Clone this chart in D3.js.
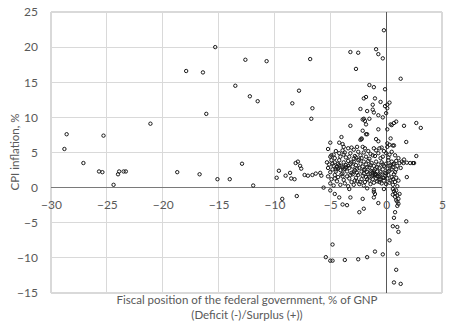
<!DOCTYPE html>
<html>
<head>
<meta charset="utf-8">
<script src="https://cdn.jsdelivr.net/npm/d3@7/dist/d3.min.js"></script>
<style>
  html, body { margin: 0; padding: 0; background: #fff; }
  svg { display: block; }
  text { font-family: Lato, "Open Sans", sans-serif; fill: #595959; }
</style>
</head>
<body>
<svg id="chart" width="453" height="329"></svg>
<script>
// Fiscal position (% of GNP) vs CPI inflation (%), [x, y]
const farLeftPoints = [
  [-28.8,5.5],[-28.6,7.6],[-27.1,3.5],[-25.7,2.3],[-25.4,2.2],[-25.3,7.4],[-24.4,0.4],
  [-24.0,1.9],[-23.9,2.3],[-23.5,2.3],[-23.3,2.3],[-21.1,9.1],[-18.7,2.2],[-17.9,16.6],
  [-16.7,1.9],[-16.4,16.4],[-16.1,10.5],[-15.3,20.0],[-15.1,1.2],[-14.0,1.2],[-13.5,14.5],
  [-12.9,3.4],[-12.6,18.2],[-12.2,13.0],[-11.9,0.3],[-11.5,12.3],[-10.7,18.0]
];
const midPoints = [
  [-9.8,1.4],[-9.6,2.4],[-9.3,-1.6],[-9.0,1.7],[-8.6,2.1],[-8.5,1.3],[-8.4,12.0],[-8.2,1.2],
  [-8.1,3.5],[-7.9,3.7],[-7.7,3.1],[-7.6,2.7],[-8.0,-1.2],[-7.8,13.8],[-7.3,1.8],[-7.0,1.7],
  [-6.8,18.3],[-6.7,9.8],[-6.6,11.3],[-6.6,1.8],[-6.3,2.0],[-5.9,2.1],[-5.8,1.7],[-5.6,0.0]
];
const highInflationPoints = [
  [-0.2,22.4],[-3.2,19.3],[-2.5,19.2],[-0.9,19.7],[-0.7,19.0],[-0.3,18.4],[-2.7,16.9],
  [1.3,15.5],[-1.5,14.6],[-1.1,14.3],[-0.1,14.0],[-2.0,12.7],[-1.8,12.9],[-1.0,12.7],
  [-0.5,12.2],[0.3,12.1],[0.1,11.8],[-0.1,11.6],[-2.3,11.2],[-1.7,10.9],[-1.2,11.8],
  [-1.2,11.1],[-1.1,10.7],[-2.0,9.8],[-2.1,9.7],[-1.5,9.8],[-1.9,9.5],[-1.8,9.0],
  [-0.7,10.3],[-0.3,10.0],[0.0,10.6],[0.1,11.3],[-3.2,8.8],[-2.1,8.1],[-1.8,7.6],
  [-0.7,8.3],[0.1,8.3],[0.4,9.0],[0.7,9.2],[0.9,9.4],[0.5,8.9],[1.6,8.8],[2.7,9.2],[3.1,8.5],
  [-4.0,7.2],[-5.0,6.4],[-4.2,6.4],[-3.9,6.2],[-3.8,5.8],[-2.2,6.9],[-2.2,7.0],[-2.3,6.8],
  [-1.7,7.6],[-0.9,6.9],[-0.7,6.6],[0.4,7.0],[1.8,6.5],[0.1,6.3],[0.3,6.1],[0.6,6.0],
  [0.7,6.0],[0.1,5.8]
];
const clusterPoints = [
  [-5.2,5.5],[-5.0,4.4],[-4.7,4.7],[-4.5,5.2],[-4.2,4.9],[-3.9,5.3],[-3.8,4.7],[-3.6,4.3],
  [-3.4,5.6],[-3.2,4.9],[-3.1,5.7],[-2.9,5.4],[-2.8,4.5],[-2.6,5.8],[-2.5,5.1],[-2.3,4.6],
  [-2.1,5.8],[-2.0,5.0],[-1.9,5.6],[-1.8,4.4],[-1.6,5.2],[-1.4,4.8],[-1.1,5.6],[-1.0,4.5],
  [-0.9,5.3],[-0.7,4.9],[-0.6,5.6],[-0.4,5.7],[-0.3,4.4],[0.0,4.9],[0.2,4.3],[0.5,5.1],
  [0.8,4.6],[1.1,4.2],[1.6,4.0],[2.7,4.5],
  [-5.3,3.6],[-5.2,2.8],[-5.1,3.3],[-5.0,2.2],[-4.9,3.9],[-4.8,2.6],[-4.7,3.1],[-4.6,3.6],
  [-4.5,2.3],[-4.4,2.9],[-4.3,3.4],[-4.2,3.9],[-4.1,2.5],[-4.0,3.1],[-3.9,2.0],[-3.8,3.6],
  [-3.7,2.7],[-3.6,3.2],[-3.5,2.3],[-3.4,3.8],[-3.3,2.8],[-3.2,3.4],[-3.1,2.1],[-3.0,3.0],
  [-2.9,3.7],[-2.8,2.5],[-2.7,3.2],[-2.6,2.1],[-2.5,3.9],[-2.4,2.8],[-2.3,3.4],[-2.2,2.3],
  [-2.1,3.0],[-2.0,3.7],[-1.9,2.6],[-1.8,3.3],[-1.7,2.2],[-1.6,3.8],[-1.5,2.9],[-1.4,2.4],
  [-1.3,3.5],[-1.2,2.1],[-1.1,3.1],[-1.0,2.6],[-0.9,3.7],[-0.8,2.3],[-0.7,3.3],[-0.6,2.8],
  [-0.5,2.2],[-0.4,3.6],[-0.3,2.6],[-0.2,3.1],[-0.1,2.1],[0.0,3.4],[0.1,2.7],[0.2,3.9],
  [0.3,2.4],[0.4,3.2],[0.5,3.7],[0.6,2.9],[0.7,3.4],[0.8,2.2],[0.9,3.8],[1.0,3.1],
  [1.2,3.5],[1.4,3.7],[1.55,3.5],[1.85,3.55],[2.15,3.5],[2.4,3.5],[2.5,3.5],[1.85,1.5],
  [-4.4,3.0],[-4.3,2.7],[-3.9,2.9],[-3.8,2.6],[-3.6,2.9],[-2.9,4.1],[-2.7,4.3],[-2.4,4.0],
  [-1.2,1.8],[-1.0,2.0],[-0.9,1.9],[-0.8,1.6],[-0.6,1.7],[-0.5,1.2],[-1.3,2.3],[0.3,3.1],
  [0.6,3.3],[0.5,2.6],
  [-4.9,4.6],[-4.6,4.2],[-4.1,4.4],[-3.7,5.0],[-3.3,4.4],[-2.2,4.2],[-1.5,4.1],[-1.2,4.6],
  [-0.5,4.2],[-0.2,5.2],[0.3,4.7],[-4.8,3.4],[-4.5,2.6],[-4.2,3.2],[-3.4,3.1],[-3.1,3.6],
  [-2.6,2.7],[-2.0,2.5],[-1.7,2.9],[-1.4,3.2],[-0.8,2.9],[-0.3,3.3],[0.2,2.3],[0.9,2.6],
  [1.3,2.8],[-3.9,1.6],[-3.2,1.8],[-2.8,1.0],[-2.3,0.8],[-1.7,1.2],[-1.5,1.6],[-0.6,0.8],
  [-0.2,1.4],[0.3,0.7],[-4.6,1.3],[-2.9,2.3],[-2.0,2.0],[-1.1,2.4],[0.0,2.0],[0.6,1.2],
  [-5.2,1.6],[-5.0,0.6],[-4.9,1.2],[-4.7,0.3],[-4.6,1.8],[-4.4,0.9],[-4.3,1.5],[-4.1,0.4],
  [-4.0,1.9],[-3.8,1.1],[-3.7,0.6],[-3.5,1.6],[-3.4,0.2],[-3.3,1.3],[-3.1,0.8],[-3.0,1.9],
  [-2.9,0.4],[-2.7,1.4],[-2.6,0.9],[-2.5,1.8],[-2.4,0.5],[-2.2,1.2],[-2.1,1.7],[-2.0,0.3],
  [-1.9,0.8],[-1.8,1.5],[-1.6,1.9],[-1.5,1.0],[-1.4,0.5],[-1.3,1.6],[-1.2,1.2],[-1.1,0.7],
  [-1.0,1.8],[-0.9,1.3],[-0.8,0.9],[-0.7,1.6],[-0.6,1.1],[-0.5,1.9],[-0.4,0.6],[-0.3,1.4],
  [-0.2,1.0],[-0.1,1.7],[0.0,0.5],[0.1,1.3],[0.2,1.8],[0.4,1.0],[0.5,1.5],[0.6,0.4],
  [0.7,1.9],[0.8,0.8],[0.9,1.4],[1.0,0.2],[1.1,1.0]
];
const belowZeroPoints = [
  [-5.0,-0.4],[-4.6,-0.9],[-3.3,-0.2],[-1.7,-0.1],[-1.1,-0.3],[-1.1,-0.6],[-1.0,-0.9],
  [-0.2,-0.2],[0.6,-0.2],[0.7,-0.5],[0.8,-0.8],[0.9,-0.4],[1.0,-1.1],[0.8,-1.3],[1.1,-1.6],
  [0.9,-1.8],[1.2,-0.9],[1.0,-2.0],[1.1,-2.3],[1.0,-2.6],[0.6,-1.0],
  [-4.2,-1.4],[-3.2,-1.4],[-2.1,-1.6],[-1.1,-1.4],[-3.9,-2.4],[-3.5,-2.5],[-0.7,-2.2],
  [-2.0,-3.0],[-2.4,-3.5],[0.8,-3.5],[0.7,-4.3],[1.8,-4.8],[0.6,-5.5],[1.0,-5.6],[1.1,-6.3],
  [0.3,-7.5],[-4.8,-8.1],[-5.4,-9.9],[-5.0,-10.4],[-4.8,-10.4],[-3.7,-10.3],[-2.5,-10.2],
  [-1.7,-9.9],[-1.0,-9.1],[-0.3,-9.5],[1.0,-9.4],[0.9,-11.7],[0.7,-13.5],[1.3,-13.7]
];
const xTicks = [-30,-25,-20,-15,-10,-5,0,5];
const yTicks = [-15,-10,-5,0,5,10,15,20,25];
const xTitle = ["Fiscal position of the federal government, % of GNP", "(Deficit (-)/Surplus (+))"];
const yTitle = "CPI inflation, %";

const allPoints = [...farLeftPoints, ...midPoints, ...highInflationPoints, ...clusterPoints, ...belowZeroPoints];

const svg = d3.select("#chart");
const x = d3.scaleLinear().domain([-30, 5]).range([51, 442]);
const y = d3.scaleLinear().domain([-15, 25]).range([293, 12]);

// gridlines
svg.append("g").selectAll("line").data(xTicks).join("line")
  .attr("x1", d => x(d)).attr("x2", d => x(d))
  .attr("y1", y(25)).attr("y2", y(-15))
  .attr("stroke", "#d9d9d9").attr("stroke-width", 1.2)
  .attr("shape-rendering", "crispEdges");
svg.append("g").selectAll("line").data(yTicks).join("line")
  .attr("x1", x(-30)).attr("x2", x(5))
  .attr("y1", d => y(d)).attr("y2", d => y(d))
  .attr("stroke", "#d9d9d9").attr("stroke-width", 1.2)
  .attr("shape-rendering", "crispEdges");

// zero axes
svg.append("line").attr("x1", x(-30)).attr("x2", x(5)).attr("y1", y(0)).attr("y2", y(0))
  .attr("stroke", "#7a7a7a").attr("stroke-width", 1.2).attr("shape-rendering", "crispEdges");
svg.append("line").attr("x1", x(0)).attr("x2", x(0)).attr("y1", y(25)).attr("y2", y(-15))
  .attr("stroke", "#595959").attr("stroke-width", 1.2).attr("shape-rendering", "crispEdges");

// tick labels via axes
const xAxis = d3.axisBottom(x).tickValues(xTicks).tickSize(0).tickPadding(13).tickFormat(d3.format("d"));
const gx = svg.append("g").attr("transform", `translate(0,${y(0)})`).call(xAxis);
gx.select(".domain").remove();
gx.selectAll("text").style("font-size", "12px").attr("fill", "#595959").style("font-family", "Lato, sans-serif");

const yAxis = d3.axisLeft(y).tickValues(yTicks).tickSize(0).tickPadding(13).tickFormat(d3.format("d"));
const gy = svg.append("g").attr("transform", `translate(${x(-30)},0)`).call(yAxis);
gy.select(".domain").remove();
gy.selectAll("text").style("font-size", "12px").attr("fill", "#595959").style("font-family", "Lato, sans-serif");

// points
svg.append("g").selectAll("circle").data(allPoints).join("circle")
  .attr("cx", d => x(d[0])).attr("cy", d => y(d[1])).attr("r", 1.7)
  .attr("fill", "none").attr("stroke", "#1a1a1a").attr("stroke-width", 1);

// titles
svg.append("text").attr("x", 247).attr("y", 304).attr("text-anchor", "middle")
  .style("font-size", "11.5px").text(xTitle[0]);
svg.append("text").attr("x", 247).attr("y", 318.5).attr("text-anchor", "middle")
  .style("font-size", "11.5px").text(xTitle[1]);
svg.append("text").attr("transform", `translate(19,152) rotate(-90)`).attr("text-anchor", "middle")
  .style("font-size", "11.5px").text(yTitle);
</script>
</body>
</html>
